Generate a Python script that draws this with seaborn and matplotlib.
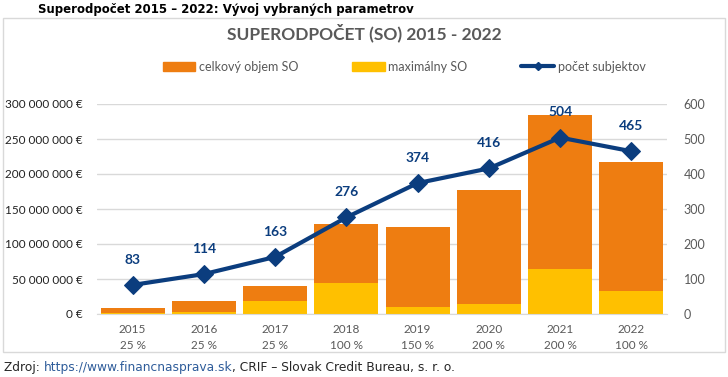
import matplotlib
matplotlib.use('Agg')
import matplotlib.pyplot as plt
import seaborn as sns
import numpy as np
from matplotlib.patches import Rectangle, Patch
from matplotlib.lines import Line2D
from matplotlib.ticker import FuncFormatter

# údaje
roky = ['2015', '2016', '2017', '2018', '2019', '2020', '2021', '2022']
sadzby = ['25 %', '25 %', '25 %', '100 %', '150 %', '200 %', '200 %', '100 %']
celkovy_objem = [8.6e6, 18.6e6, 40e6, 128.6e6, 125e6, 177e6, 284.6e6, 217.6e6]
maximalny_so = [1.5e6, 2.5e6, 18.6e6, 44e6, 10.5e6, 13.8e6, 65e6, 32.4e6]
pocet_subjektov = [83, 114, 163, 276, 374, 416, 504, 465]

oranzova = '#EE7D11'
zlta = '#FFC000'
modra = '#0B3D7E'
seda = '#595959'

sns.set_style('white')
plt.rcParams['font.family'] = ['Lato', 'DejaVu Sans']

fig = plt.figure(figsize=(7.28, 3.77), dpi=100)
ax = fig.add_axes([97 / 728, 1 - 314 / 377, 570 / 728, 210 / 377])

x_labels = [f'{r}\n{s}' for r, s in zip(roky, sadzby)]
sns.barplot(x=x_labels, y=celkovy_objem, color=oranzova, width=0.9,
            saturation=1, linewidth=0, ax=ax)
sns.barplot(x=x_labels, y=maximalny_so, color=zlta, width=0.9,
            saturation=1, linewidth=0, ax=ax)
ax.set_ylim(0, 300e6)
ax.set_xlim(-0.5, len(roky) - 0.5)
ax.set_yticks(np.arange(0, 300e6 + 1, 50e6))
ax.yaxis.set_major_formatter(
    FuncFormatter(lambda v, p: f'{int(v):,}'.replace(',', ' ') + ' €'))
ax.grid(axis='y', color='#D9D9D9', lw=1)
ax.set_axisbelow(True)
for s in ['top', 'left', 'right']:
    ax.spines[s].set_visible(False)
ax.spines['bottom'].set_color('#D9D9D9')
ax.tick_params(axis='both', length=0, labelsize=8.5, labelcolor=seda, pad=7)
ax.tick_params(axis='y', pad=10, labelcolor='#222222')
for lab in ax.get_xticklabels():
    lab.set_linespacing(1.55)

ax2 = ax.twinx()
sns.lineplot(x=np.arange(len(roky)), y=pocet_subjektov, color=modra, lw=3,
             marker='D', markersize=9, markeredgecolor=modra, ax=ax2)
ax2.set_ylim(0, 600)
ax2.set_xlim(-0.5, len(roky) - 0.5)
ax2.set_yticks(np.arange(0, 601, 100))
for s in ax2.spines.values():
    s.set_visible(False)
ax2.tick_params(axis='y', length=0, labelsize=9, labelcolor=seda, pad=12)
for i, v in enumerate(pocet_subjektov):
    ax2.annotate(str(v), (i, v), xytext=(0, 14), textcoords='offset points',
                 ha='center', va='bottom', color=modra, fontsize=10,
                 fontweight='bold')

# rámik grafu
fig.patches.append(Rectangle((3 / 728, 1 - 352 / 377), 722 / 728, 334 / 377,
                             transform=fig.transFigure, fill=False,
                             edgecolor='#D9D9D9', lw=1))

fig.text(0.5, 1 - 33 / 377, 'SUPERODPOČET (SO) 2015 - 2022', ha='center',
         va='center', fontsize=12.5, fontweight='bold', color=seda)
fig.text(38 / 728, 1 - 10 / 377,
         'Superodpočet 2015 – 2022: Vývoj vybraných parametrov',
         ha='left', va='center', fontsize=8.5, fontweight='bold',
         family='DejaVu Sans', color='black')

handles = [Patch(color=oranzova), Patch(color=zlta),
           Line2D([], [], color=modra, lw=3, marker='D', markersize=4)]
fig.legend(handles, ['celkový objem SO', 'maximálny SO', 'počet subjektov'],
           loc='center', bbox_to_anchor=(404 / 728, 1 - 67 / 377), ncol=3,
           frameon=False, fontsize=9, labelcolor=seda, handlelength=2.6,
           handleheight=0.8, columnspacing=4.3, handletextpad=0.3)

# zdroj
t1 = fig.text(4 / 728, 1 - 368 / 377, 'Zdroj: ', ha='left', va='center',
              fontsize=8.8, family='DejaVu Sans')
t2 = fig.text(0, 0, 'https://www.financnasprava.sk', fontsize=8.8,
              family='DejaVu Sans', color='#2E5C9A')
t3 = fig.text(0, 0, ', CRIF – Slovak Credit Bureau, s. r. o.', fontsize=8.8,
              family='DejaVu Sans')
fig.canvas.draw()
r = fig.canvas.get_renderer()
bb = t1.get_window_extent(r).transformed(fig.transFigure.inverted())
t2.set_position((bb.x1, 1 - 368 / 377))
t2.set_va('center')
bb = t2.get_window_extent(r).transformed(fig.transFigure.inverted())
t3.set_position((bb.x1, 1 - 368 / 377))
t3.set_va('center')

fig.savefig('out.png', dpi=100)
